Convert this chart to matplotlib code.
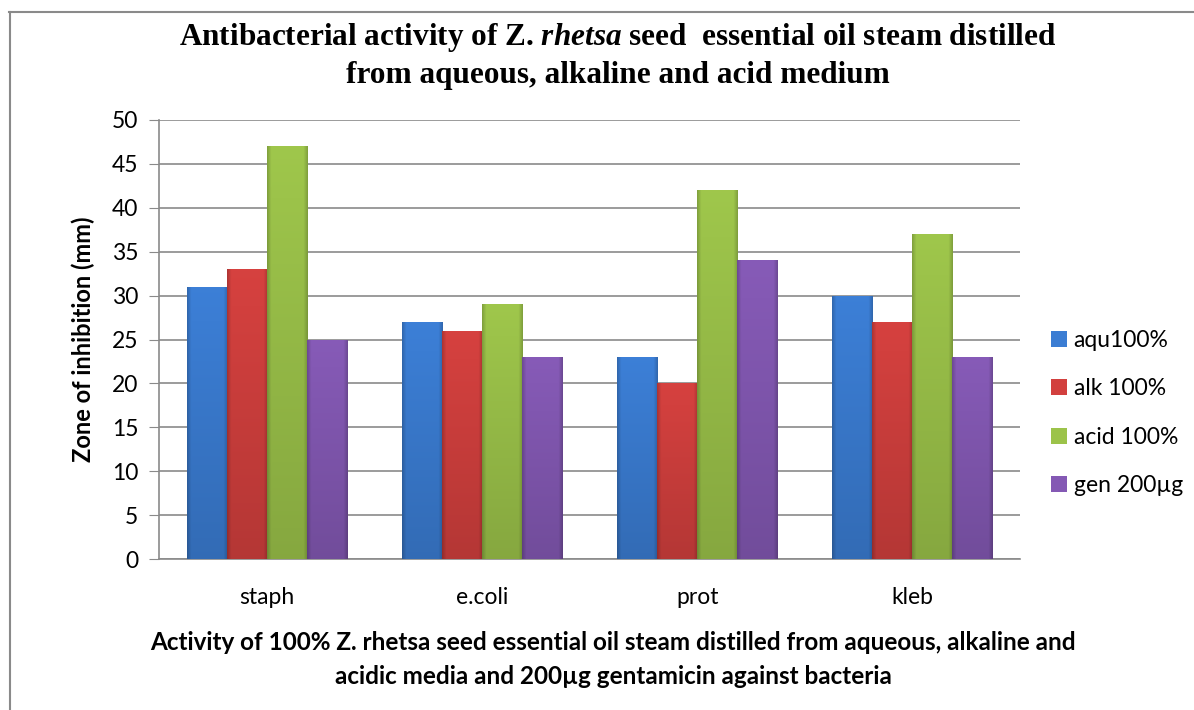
#!/usr/bin/env python3
import numpy as np
import matplotlib
matplotlib.use("Agg")
import matplotlib.pyplot as plt
from matplotlib.colors import to_rgb
from matplotlib.lines import Line2D

categories = ["staph", "e.coli", "prot", "kleb"]
series_names = ["aqu100%", "alk 100%", "acid 100%", "gen 200\u00b5g"]
aqu = [31, 27, 23, 30]
alk = [33, 26, 20, 27]
acid = [47, 29, 42, 37]
gen = [25, 23, 34, 23]
colors = ["#3B7DD3", "#D2403E", "#9CC34A", "#8459B4"]

SANS = ["Lato", "DejaVu Sans"]
SERIF = ["Liberation Serif", "DejaVu Serif"]

plt.rcParams["mathtext.fontset"] = "custom"
plt.rcParams["mathtext.it"] = "Liberation Serif:italic:bold"
plt.rcParams["mathtext.rm"] = "Liberation Serif:bold"


def bevel_image(color, nx=40, ny=200):
    # lighter top, darker bottom, darker side edges
    base = np.array(to_rgb(color))
    xs = np.linspace(-1, 1, nx)
    ys = np.linspace(0, 1, ny)[:, None]
    side = 1 - 0.18 * np.clip((np.abs(xs) - 0.8) / 0.2, 0, 1)
    vert = 0.86 + 0.16 * ys
    shade = vert * side[None, :]
    img = np.clip(base[None, None, :] * shade[:, :, None], 0, 1)
    return img


def main() -> None:
    fig = plt.figure(figsize=(11.94, 7.10), dpi=100)
    ax = fig.add_axes([159 / 1194, 1 - 559 / 710, (1020 - 159) / 1194, (559 - 120) / 710])

    data = [aqu, alk, acid, gen]
    x = np.arange(len(categories))
    w = 0.186
    handles = []
    for i, (vals, c, name) in enumerate(zip(data, colors, series_names)):
        bars = ax.bar(x + (i - 1.5) * w, vals, w, color=c, edgecolor="none", zorder=3, label=name)
        img = bevel_image(c)
        for b in bars:
            x0, h = b.get_x(), b.get_height()
            im = ax.imshow(img, extent=(x0, x0 + w, 0, h), origin="lower", aspect="auto",
                           zorder=3.5, interpolation="bilinear")
            im.set_clip_path(b)
        handles.append(bars)

    ax.set_xlim(-0.5, 3.5)
    ax.set_ylim(0, 50)
    ax.set_yticks(range(0, 51, 5))
    ax.set_xticks(x)
    ax.set_xticklabels(categories, fontsize=16.5, family=SANS)
    for lab in ax.get_yticklabels():
        lab.set_family(SANS)
        lab.set_fontsize(16.5)
    ax.grid(axis="y", color="#8a8a8a", linewidth=1.2, zorder=0)
    ax.set_axisbelow(True)
    for s in ["top", "right"]:
        ax.spines[s].set_visible(False)
    ax.spines["left"].set_color("#8a8a8a")
    ax.spines["bottom"].set_color("#8a8a8a")
    ax.spines["left"].set_linewidth(1.2)
    ax.spines["bottom"].set_linewidth(1.2)
    ax.tick_params(axis="y", length=7, color="#8a8a8a", pad=8)
    ax.tick_params(axis="x", length=0, pad=20)

    ax.set_ylabel("Zone of inhibition (mm)", fontsize=17, fontweight="bold", family=SANS, labelpad=12)

    # x axis title, centred on the chart area like the original
    fig.text(613 / 1194, 1 - 643 / 710,
             "Activity of 100% Z. rhetsa seed essential oil steam distilled from aqueous, alkaline and",
             ha="center", va="center", fontsize=17.5, fontweight="bold", family=SANS)
    fig.text(613 / 1194, 1 - 676 / 710, "acidic media and 200\u00b5g gentamicin against bacteria",
             ha="center", va="center", fontsize=17.5, fontweight="bold", family=SANS)

    fig.text(618 / 1194, 1 - 38 / 710,
             r"Antibacterial activity of Z. $rhetsa$ seed  essential oil steam distilled",
             ha="center", va="center", fontsize=22.5, fontweight="bold", family=SERIF)
    fig.text(618 / 1194, 1 - 75 / 710, "from aqueous, alkaline and acid medium",
             ha="center", va="center", fontsize=22.5, fontweight="bold", family=SERIF)

    fig.legend(handles=handles, labels=series_names, loc="center left",
               bbox_to_anchor=(1030 / 1194, 1 - 413 / 710), frameon=False,
               prop={"family": SANS, "size": 16.5}, handlelength=0.7, handleheight=0.7,
               handletextpad=0.3, labelspacing=1.2)

    # chart frame (top and left edges visible)
    fig.add_artist(Line2D([9 / 1194, 1], [1 - 12 / 710] * 2, transform=fig.transFigure, color="#8a8a8a", lw=1.5))
    fig.add_artist(Line2D([10 / 1194] * 2, [0, 1 - 12 / 710], transform=fig.transFigure, color="#8a8a8a", lw=1.5))

    fig.savefig("out.png", dpi=100)


if __name__ == "__main__":
    main()
